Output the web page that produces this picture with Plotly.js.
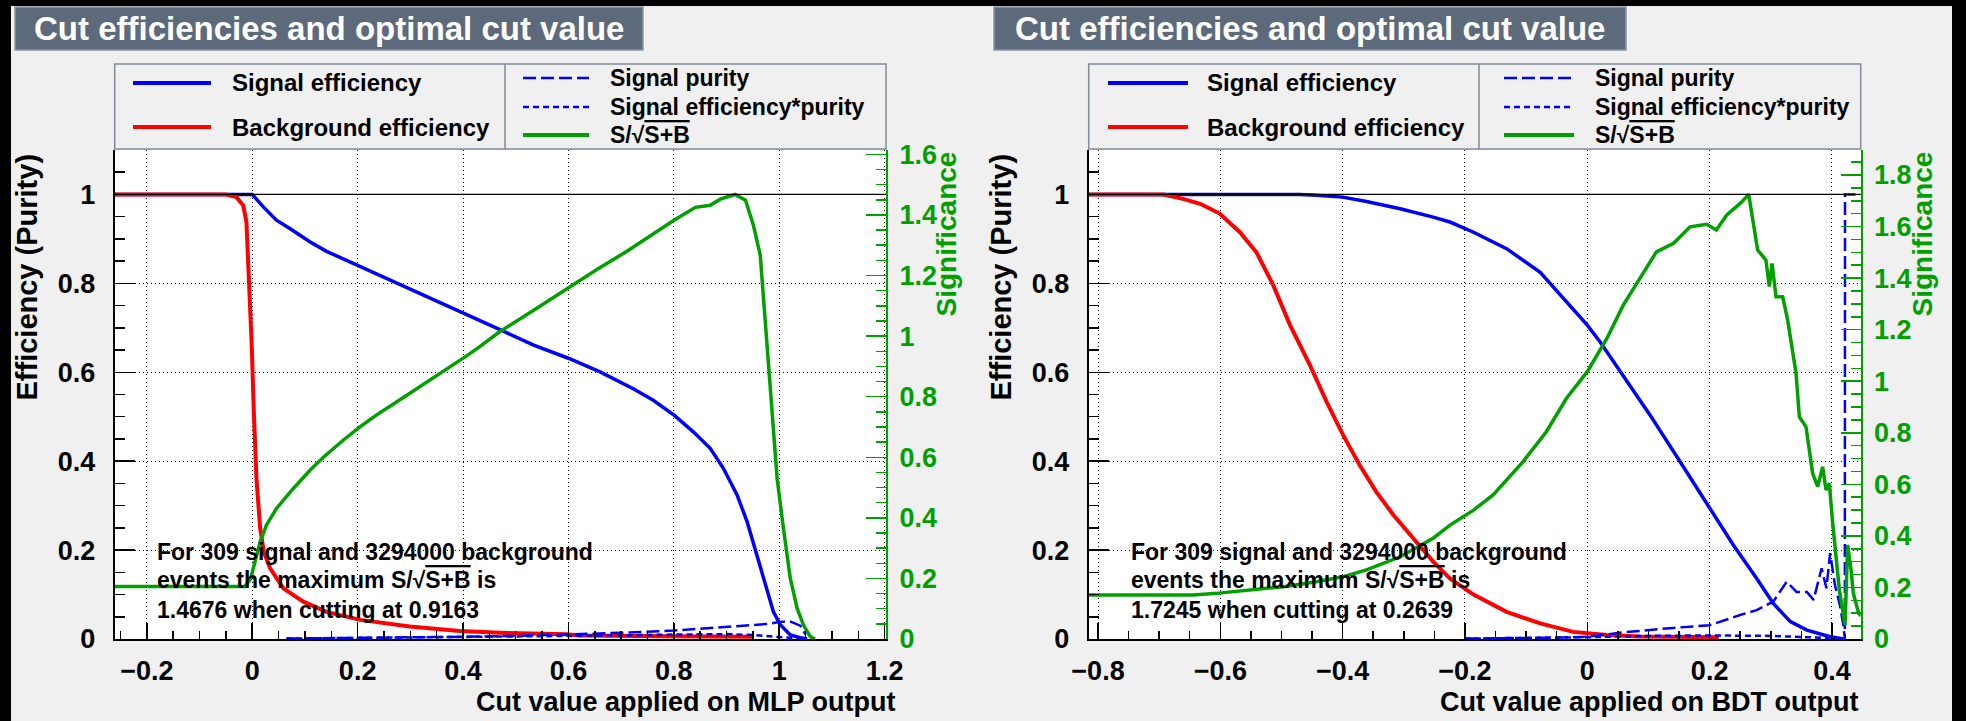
<!DOCTYPE html>
<html>
<head>
<meta charset="utf-8">
<script src="https://cdn.plot.ly/plotly-3.0.1.min.js"></script>
<style>html,body{margin:0;padding:0;background:#f0f0f0;}#chart{width:1966px;height:721px;}</style>
</head>
<body>
<div id="chart"></div>
<script>
// ---------------- DATA ----------------
// MLP panel
const mlpSigEffX = [-0.261, 0.0, 0.021, 0.046, 0.072, 0.11, 0.141, 0.173, 0.205, 0.236, 0.268, 0.299, 0.331, 0.363, 0.394, 0.426, 0.470, 0.534, 0.601, 0.660, 0.723, 0.761, 0.801, 0.837, 0.869, 0.894, 0.920, 0.939, 0.958, 0.977, 0.989, 1.002, 1.021, 1.040, 1.053];
const mlpSigEffY = [1, 1, 0.972, 0.942, 0.923, 0.893, 0.872, 0.855, 0.837, 0.820, 0.803, 0.787, 0.769, 0.754, 0.736, 0.719, 0.696, 0.661, 0.631, 0.601, 0.563, 0.537, 0.503, 0.466, 0.429, 0.384, 0.324, 0.264, 0.189, 0.114, 0.061, 0.032, 0.009, 0.003, 0];
const mlpBkgEffX = [-0.261, -0.049, -0.030, -0.017, -0.011, -0.006, -0.001, 0.003, 0.008, 0.015, 0.022, 0.034, 0.059, 0.097, 0.141, 0.205, 0.299, 0.394, 0.470, 0.597, 0.62, 0.787, 0.951];
const mlpBkgEffY = [1, 1, 0.994, 0.975, 0.938, 0.81, 0.661, 0.511, 0.361, 0.249, 0.196, 0.159, 0.114, 0.084, 0.061, 0.043, 0.028, 0.018, 0.014, 0.0105, 0.008, 0.006, 0.005];
const mlpPurX = [0.065, 0.2, 0.3, 0.4, 0.5, 0.6, 0.7, 0.8, 0.85, 0.9, 0.95, 0.98, 1.0, 1.02, 1.04, 1.05];
const mlpPurY = [0.001, 0.002, 0.003, 0.005, 0.007, 0.010, 0.014, 0.019, 0.023, 0.027, 0.031, 0.034, 0.038, 0.040, 0.030, 0.010];
const mlpEffPurX = [0.065, 0.3, 0.5, 0.7, 0.8, 0.9, 0.95, 1.0, 1.03, 1.05];
const mlpEffPurY = [0.001, 0.003, 0.005, 0.008, 0.010, 0.011, 0.009, 0.004, 0.001, 0];
const mlpSigX = [-0.261, -0.014, -0.003, 0.002, 0.008, 0.015, 0.027, 0.046, 0.078, 0.110, 0.135, 0.173, 0.205, 0.236, 0.268, 0.299, 0.331, 0.363, 0.401, 0.426, 0.470, 0.534, 0.601, 0.654, 0.711, 0.755, 0.801, 0.841, 0.869, 0.888, 0.9163, 0.936, 0.951, 0.964, 0.970, 0.977, 0.986, 0.996, 1.008, 1.021, 1.034, 1.046, 1.059, 1.068];
const mlpSigY = [0.173, 0.173, 0.200, 0.235, 0.280, 0.321, 0.376, 0.431, 0.497, 0.558, 0.600, 0.657, 0.701, 0.740, 0.776, 0.811, 0.846, 0.882, 0.928, 0.958, 1.015, 1.085, 1.160, 1.220, 1.280, 1.330, 1.383, 1.425, 1.432, 1.452, 1.4676, 1.449, 1.366, 1.267, 1.135, 0.970, 0.750, 0.530, 0.365, 0.200, 0.101, 0.046, 0.008, 0];

// BDT panel
const bdtSigEffX = [-0.815, -0.470, -0.443, -0.400, -0.361, -0.306, -0.252, -0.2245, -0.186, -0.132, -0.077, -0.034, 0, 0.021, 0.059, 0.103, 0.152, 0.200, 0.239, 0.277, 0.304, 0.332, 0.359, 0.397, 0.419];
const bdtSigEffY = [1, 1, 0.998, 0.994, 0.984, 0.968, 0.949, 0.938, 0.915, 0.878, 0.825, 0.758, 0.706, 0.668, 0.593, 0.503, 0.398, 0.294, 0.211, 0.136, 0.080, 0.039, 0.020, 0.005, 0];
const bdtBkgEffX = [-0.815, -0.693, -0.661, -0.633, -0.601, -0.568, -0.541, -0.5135, -0.486, -0.4535, -0.426, -0.399, -0.372, -0.345, -0.317, -0.285, -0.252, -0.2245, -0.186, -0.132, -0.077, -0.023, 0.032, 0.086, 0.195, 0.215];
const bdtBkgEffY = [1, 1, 0.990, 0.979, 0.957, 0.915, 0.870, 0.796, 0.706, 0.616, 0.533, 0.458, 0.391, 0.331, 0.279, 0.226, 0.174, 0.136, 0.100, 0.061, 0.035, 0.016, 0.009, 0.0055, 0.005, 0.004];
const bdtPurX = [-0.2, -0.1, -0.05, 0, 0.059, 0.141, 0.2, 0.25, 0.277, 0.304, 0.326, 0.342, 0.359, 0.370, 0.383, 0.391, 0.397, 0.405, 0.413, 0.4186, 0.421, 0.4214, 0.447];
const bdtPurY = [0.001, 0.002, 0.003, 0.005, 0.015, 0.025, 0.031, 0.054, 0.065, 0.084, 0.129, 0.106, 0.106, 0.088, 0.159, 0.114, 0.193, 0.121, 0.076, 0.031, 0.0, 1.0, 1.0];
const bdtEffPurX = [-0.2, -0.1, 0, 0.1, 0.2, 0.3, 0.35, 0.4, 0.42];
const bdtEffPurY = [0.001, 0.002, 0.004, 0.007, 0.008, 0.007, 0.005, 0.002, 0];
const bdtSigX = [-0.815, -0.644, -0.606, -0.552, -0.4965, -0.443, -0.399, -0.361, -0.306, -0.252, -0.2245, -0.186, -0.154, -0.105, -0.067, -0.034, 0, 0.032, 0.059, 0.086, 0.113, 0.141, 0.168, 0.195, 0.211, 0.228, 0.250, 0.2639, 0.2785, 0.292, 0.2976, 0.302, 0.3086, 0.3194, 0.3276, 0.3413, 0.3467, 0.3576, 0.3684, 0.3766, 0.3848, 0.3903, 0.3957, 0.4012, 0.4121, 0.4214, 0.4257, 0.4312, 0.435, 0.4436, 0.447];
const bdtSigY = [0.171, 0.171, 0.177, 0.190, 0.203, 0.222, 0.242, 0.268, 0.319, 0.391, 0.442, 0.500, 0.559, 0.688, 0.804, 0.934, 1.037, 1.166, 1.296, 1.399, 1.502, 1.535, 1.599, 1.609, 1.587, 1.645, 1.690, 1.7245, 1.509, 1.470, 1.367, 1.457, 1.328, 1.328, 1.237, 1.031, 0.862, 0.823, 0.643, 0.591, 0.668, 0.578, 0.604, 0.449, 0.190, 0.054, 0.365, 0.268, 0.177, 0.100, 0.090];

// labels
const legendLeft = ["Signal efficiency", "Background efficiency"];
const legendRight = ["Signal purity", "Signal efficiency*purity", "S/\u221A<span style='text-decoration:overline'>S+B</span>"];
const panelTitle = "Cut efficiencies and optimal cut value";
const xTitles = ["Cut value applied on MLP output", "Cut value applied on BDT output"];
const infoMLP = ["For 309 signal and 3294000 background", "events the maximum S/\u221A<span style='text-decoration:overline'>S+B</span> is", "1.4676 when cutting at 0.9163"];
const infoBDT = ["For 309 signal and 3294000 background", "events the maximum S/\u221A<span style='text-decoration:overline'>S+B</span> is", "1.7245 when cutting at 0.2639"];

// ---------------- STYLE / LAYOUT ----------------
const W = 1966, H = 721;
const BLUE = '#0000ff', RED = '#ff0000', GREEN = '#00a000';
const FONT = 'Liberation Sans, Arial, sans-serif';
const px = v => v / W;
const py = v => 1 - v / H;

const plotTop = 150, plotBot = 639;
const panels = [
  {l: 114.7, r: 886, xr: [-0.261, 1.2026], sr: [0, 1.6144], xa: 'x', ya: 'y', sa: 'y2', dividerX: 505,
   sampL: [133, 211], textL: 230, sampR: [523, 589], textR: 608, titleBox: [15, 643], effTitleX: 26, sigTitleX: 946, xTitleR: 898, infoX: 155, info: infoMLP, xTitle: xTitles[0]},
  {l: 1088.7, r: 1860.7, xr: [-0.8152, 0.447], sr: [0, 1.897], xa: 'x2', ya: 'y3', sa: 'y4', dividerX: 1479,
   sampL: [1108, 1188], textL: 1205, sampR: [1504, 1574], textR: 1593, titleBox: [994, 1626], effTitleX: 1000, sigTitleX: 1922, xTitleR: 1860, infoX: 1129, info: infoBDT, xTitle: xTitles[1]}
];

const traces = [];
function addPanel(p, d) {
  traces.push({x: d.se[0], y: d.se[1], xaxis: p.xa, yaxis: p.ya, mode: 'lines', line: {color: BLUE, width: 3.5}, name: 'Signal efficiency'});
  traces.push({x: d.be[0], y: d.be[1], xaxis: p.xa, yaxis: p.ya, mode: 'lines', line: {color: RED, width: 4}, name: 'Background efficiency'});
  traces.push({x: d.pu[0], y: d.pu[1], xaxis: p.xa, yaxis: p.ya, mode: 'lines', line: {color: BLUE, width: 2.5, dash: '13px,5px'}, name: 'Signal purity'});
  traces.push({x: d.ep[0], y: d.ep[1], xaxis: p.xa, yaxis: p.ya, mode: 'lines', line: {color: BLUE, width: 2.5, dash: '6px,4px'}, name: 'Signal efficiency*purity'});
  traces.push({x: d.sg[0], y: d.sg[1], xaxis: p.xa, yaxis: p.sa, mode: 'lines', line: {color: GREEN, width: 3.5}, name: 'S/sqrt(S+B)'});
}
addPanel(panels[0], {se: [mlpSigEffX, mlpSigEffY], be: [mlpBkgEffX, mlpBkgEffY], pu: [mlpPurX, mlpPurY], ep: [mlpEffPurX, mlpEffPurY], sg: [mlpSigX, mlpSigY]});
addPanel(panels[1], {se: [bdtSigEffX, bdtSigEffY], be: [bdtBkgEffX, bdtBkgEffY], pu: [bdtPurX, bdtPurY], ep: [bdtEffPurX, bdtEffPurY], sg: [bdtSigX, bdtSigY]});

const tickFont = {family: FONT, size: 27, color: 'black', weight: 'bold'};
const yDom = [py(plotBot), py(plotTop)];

function xAxis(p) {
  return {domain: [px(p.l), px(p.r)], range: p.xr, anchor: p.ya, dtick: 0.2, tick0: 0,
    ticks: 'inside', ticklen: 16, tickwidth: 1.5, tickcolor: 'black',
    minor: {dtick: 0.05, tick0: 0, ticks: 'inside', ticklen: 8, tickwidth: 1.5, tickcolor: 'black', showgrid: false},
    showgrid: true, gridcolor: 'black', gridwidth: 1, griddash: '1px,3px',
    showline: true, linecolor: 'black', linewidth: 2, zeroline: false,
    tickfont: tickFont, ticklabelstandoff: 7, fixedrange: true};
}
function yAxis(p) {
  return {domain: yDom, range: [0, 1.1], anchor: p.xa, dtick: 0.2, tick0: 0,
    ticks: 'inside', ticklen: 20, tickwidth: 1.5, tickcolor: 'black',
    minor: {dtick: 0.05, tick0: 0, ticks: 'inside', ticklen: 10, tickwidth: 1.5, tickcolor: 'black', showgrid: false},
    showgrid: true, gridcolor: 'black', gridwidth: 1, griddash: '1px,3px',
    showline: true, linecolor: 'black', linewidth: 2, zeroline: false,
    tickfont: tickFont, ticklabelstandoff: 12, fixedrange: true};
}
function sAxis(p) {
  return {overlaying: p.ya, side: 'right', anchor: p.xa, range: p.sr, dtick: 0.2, tick0: 0,
    ticks: 'inside', ticklen: 20, tickwidth: 1.5, tickcolor: GREEN,
    minor: {dtick: 0.05, tick0: 0, ticks: 'inside', ticklen: 10, tickwidth: 1.5, tickcolor: GREEN, showgrid: false},
    showgrid: false, showline: true, linecolor: GREEN, linewidth: 2, zeroline: false,
    tickfont: Object.assign({}, tickFont, {color: GREEN}), ticklabelstandoff: 6, fixedrange: true};
}

const shapes = [];
const annotations = [];
// page frame (black bands)
shapes.push({type: 'rect', xref: 'paper', yref: 'paper', x0: 0, x1: 1, y0: py(6), y1: 1, fillcolor: 'black', line: {width: 0}, layer: 'below'});
shapes.push({type: 'rect', xref: 'paper', yref: 'paper', x0: 0, x1: px(11), y0: 0, y1: 1, fillcolor: 'black', line: {width: 0}, layer: 'below'});
shapes.push({type: 'rect', xref: 'paper', yref: 'paper', x0: px(1952), x1: 1, y0: 0, y1: 1, fillcolor: 'black', line: {width: 0}, layer: 'below'});

panels.forEach(p => {
  // title box
  shapes.push({type: 'rect', xref: 'paper', yref: 'paper', x0: px(p.titleBox[0]), x1: px(p.titleBox[1]), y0: py(50), y1: py(7),
    fillcolor: '#5d6a7c', line: {color: '#8c96a4', width: 1.5}});
  annotations.push({xref: 'paper', yref: 'paper', x: px((p.titleBox[0] + p.titleBox[1]) / 2), y: py(28.5), xanchor: 'center', yanchor: 'middle',
    text: panelTitle, showarrow: false, font: {family: FONT, size: 33, color: 'white', weight: 'bold'}});
  // legend box
  shapes.push({type: 'rect', xref: 'paper', yref: 'paper', x0: px(p.l), x1: px(p.r), y0: py(149), y1: py(64),
    fillcolor: '#f0f0f0', line: {color: '#7f8a99', width: 1.5}});
  shapes.push({type: 'line', xref: 'paper', yref: 'paper', x0: px(p.dividerX), x1: px(p.dividerX), y0: py(149), y1: py(64),
    line: {color: '#7f8a99', width: 1.5}});
  const lrows = [83, 127], lcols = [BLUE, RED];
  legendLeft.forEach((t, i) => {
    shapes.push({type: 'line', xref: 'paper', yref: 'paper', x0: px(p.sampL[0]), x1: px(p.sampL[1]), y0: py(lrows[i]), y1: py(lrows[i]), line: {color: lcols[i], width: 4}});
    annotations.push({xref: 'paper', yref: 'paper', x: px(p.textL), y: py(lrows[i]), xanchor: 'left', yanchor: 'middle', text: t, showarrow: false,
      font: {family: FONT, size: 24, color: 'black', weight: 'bold'}});
  });
  const rrows = [78, 107, 135];
  const rstyles = [{color: BLUE, width: 2.5, dash: '13px,5px'}, {color: BLUE, width: 2.5, dash: '6px,4px'}, {color: GREEN, width: 4}];
  legendRight.forEach((t, i) => {
    shapes.push({type: 'line', xref: 'paper', yref: 'paper', x0: px(p.sampR[0]), x1: px(p.sampR[1]), y0: py(rrows[i]), y1: py(rrows[i]), line: rstyles[i]});
    annotations.push({xref: 'paper', yref: 'paper', x: px(p.textR), y: py(rrows[i]), xanchor: 'left', yanchor: 'middle', text: t, showarrow: false,
      font: {family: FONT, size: 23, color: 'black', weight: 'bold'}});
  });
  // y = 1 reference line
  shapes.push({type: 'line', xref: p.xa + ' domain', yref: p.ya, x0: 0, x1: 1, y0: 1, y1: 1, line: {color: 'black', width: 1.2}});
  // axis titles
  annotations.push({xref: 'paper', yref: 'paper', x: px(p.effTitleX), y: py(152), xanchor: 'center', yanchor: 'top', textangle: -90,
    text: 'Efficiency (Purity)', showarrow: false, font: {family: FONT, size: 29, color: 'black', weight: 'bold'}});
  annotations.push({xref: 'paper', yref: 'paper', x: px(p.sigTitleX), y: py(150), xanchor: 'center', yanchor: 'top', textangle: -90,
    text: 'Significance', showarrow: false, font: {family: FONT, size: 28, color: GREEN, weight: 'bold'}});
  annotations.push({xref: 'paper', yref: 'paper', x: px(p.xTitleR), y: py(702), xanchor: 'right', yanchor: 'middle',
    text: p.xTitle, showarrow: false, font: {family: FONT, size: 27, color: 'black', weight: 'bold'}});
  // info text
  const irows = [552, 580, 610];
  p.info.forEach((t, i) => {
    annotations.push({xref: 'paper', yref: 'paper', x: px(p.infoX), y: py(irows[i]), xanchor: 'left', yanchor: 'middle', text: t, showarrow: false,
      font: {family: FONT, size: 23, color: 'black', weight: 'bold'}});
  });
});

const layout = {
  width: W, height: H, autosize: false,
  margin: {l: 0, r: 0, t: 0, b: 0, pad: 0},
  paper_bgcolor: '#f0f0f0', plot_bgcolor: 'white',
  showlegend: false,
  xaxis: xAxis(panels[0]), yaxis: yAxis(panels[0]), yaxis2: sAxis(panels[0]),
  xaxis2: xAxis(panels[1]), yaxis3: yAxis(panels[1]), yaxis4: sAxis(panels[1]),
  shapes: shapes, annotations: annotations,
  font: {family: FONT}
};

Plotly.newPlot('chart', traces, layout, {displayModeBar: false, staticPlot: true});
</script>
</body>
</html>
